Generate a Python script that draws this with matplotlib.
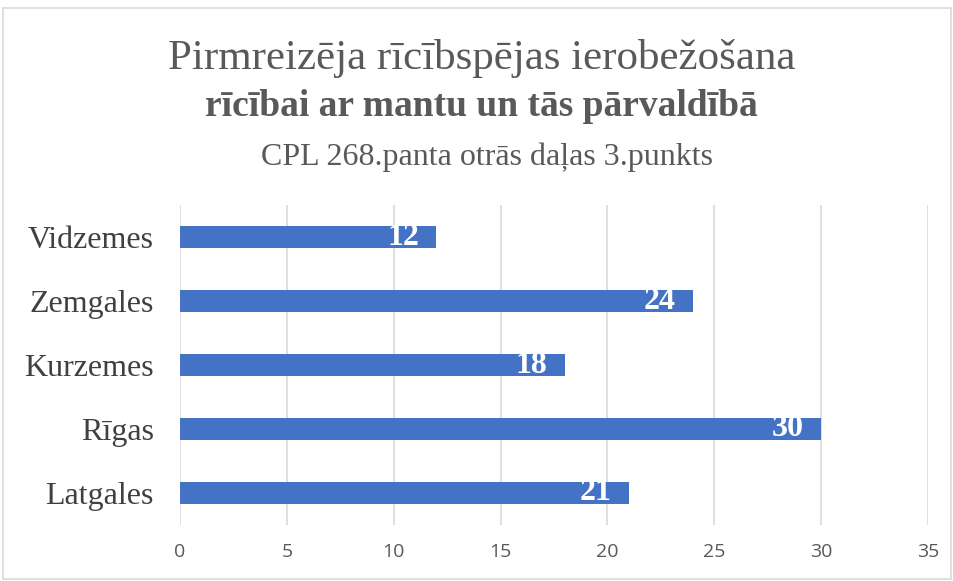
import matplotlib
matplotlib.use("Agg")
import matplotlib.pyplot as plt
from matplotlib.patches import Rectangle

categories = ["Vidzemes", "Zemgales", "Kurzemes", "Rīgas", "Latgales"]
values = [12, 24, 18, 30, 21]
xticks = [0, 5, 10, 15, 20, 25, 30, 35]

serif = ["Liberation Serif", "DejaVu Serif"]

fig = plt.figure(figsize=(9.54, 5.81), dpi=100)
fig.patch.set_facecolor("white")
fig.patches.append(Rectangle((3/954, 0.003), 948/954, 1 - 8/581 - 0.003, transform=fig.transFigure,
                             fill=False, edgecolor="#d9d9d9", linewidth=1.2))

ax = fig.add_axes([180/954, 1 - 525/581, (928 - 180)/954, (525 - 205)/581])
y = list(range(len(categories)))
ax.barh(y, values, height=0.34, color="#4472C4", zorder=3)
ax.set_ylim(len(categories) - 0.5, -0.5)
ax.set_xlim(0, 35)
ax.set_xticks(xticks)
ax.set_xticklabels([str(t) for t in xticks], family=["Open Sans", "DejaVu Sans"], fontsize=14, color="#595959")
ax.set_yticks(y)
ax.set_yticklabels(categories, family=serif, fontsize=23, color="#404040")
ax.tick_params(axis="both", length=0)
ax.tick_params(axis="x", pad=13)
ax.tick_params(axis="y", pad=19)
ax.grid(axis="x", color="#d9d9d9", linewidth=1.2, zorder=0)
for s in ax.spines.values():
    s.set_visible(False)

for yi, v in zip(y, values):
    ax.text(v - 0.8, yi, str(v), ha="right", va="center", color="white",
            fontsize=23, fontweight="bold", family=serif, zorder=4)

fig.text(0.5 + 5/954, 1 - 59/581, "Pirmreizēja rīcībspējas ierobežošana", ha="center", va="center",
         family=serif, fontsize=31, color="#595959")
fig.text(0.5 + 4/954, 1 - 106/581, "rīcībai ar mantu un tās pārvaldībā", ha="center", va="center",
         family=serif, fontsize=27, fontweight="bold", color="#595959")
fig.text(0.5 + 10/954, 1 - 157/581, "CPL 268.panta otrās daļas 3.punkts", ha="center", va="center",
         family=serif, fontsize=23, color="#595959")

fig.savefig("out.png", dpi=100)
